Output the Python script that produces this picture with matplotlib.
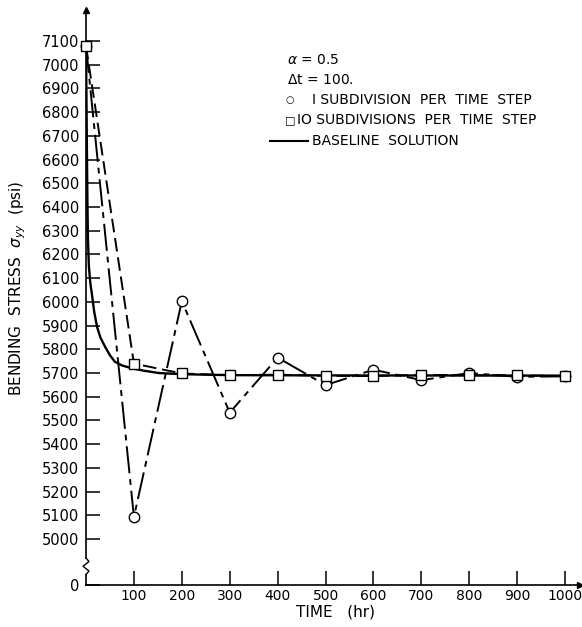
import matplotlib
matplotlib.use("Agg")
import matplotlib.pyplot as plt
from matplotlib.lines import Line2D

# ---- data -------------------------------------------------------------
time_steps = [0, 100, 200, 300, 400, 500, 600, 700, 800, 900, 1000]
stress_1sub = [7080, 5093, 6003, 5533, 5765, 5649, 5714, 5670, 5700, 5684, 5686]
stress_10sub = [7080, 5740, 5698, 5691, 5693, 5688, 5687, 5692, 5691, 5690, 5687]

baseline_t = [0, 1, 2, 3, 4, 6, 9, 12.5, 17, 23, 30, 40, 50, 60, 75, 96,
              120, 152, 200, 300, 500, 1000]
baseline_s = [7080, 6850, 6620, 6420, 6270, 6150, 6080, 6030, 5960, 5895,
              5850, 5810, 5775, 5748, 5732, 5720, 5710, 5700, 5695, 5691,
              5690, 5689]

x_ticks = [100, 200, 300, 400, 500, 600, 700, 800, 900, 1000]
y_ticks = list(range(5000, 7101, 100))
y_zero_pos = 4806          # position of the broken-axis origin

W, H = 582, 627
fig = plt.figure(figsize=(W / 100, H / 100), dpi=100)
plt.rcParams['font.family'] = ['DejaVu Sans']

left, bottom, right, top = 86, 585, 580, 10
ax = fig.add_axes([left / W, 1 - bottom / H, (right - left) / W, (bottom - top) / H])
ax.set_xlim(0, 1031)
ax.set_ylim(y_zero_pos, 7231)

lw = 1.4
ax.plot(baseline_t, baseline_s, color='black', lw=lw + 0.3, zorder=3)
ax.plot(time_steps, stress_1sub, color='black', lw=lw,
        linestyle=(0, (14, 3, 3, 3)), marker='o', ms=7.5,
        mfc='white', mec='black', mew=1.0, zorder=4, clip_on=False)
ax.plot(time_steps, stress_10sub, color='black', lw=lw,
        linestyle=(0, (7, 3)), marker='s', ms=7.5,
        mfc='white', mec='black', mew=1.0, zorder=5, clip_on=False)

# axes styling
for s in ('top', 'right', 'left'):
    ax.spines[s].set_visible(False)
ax.spines['bottom'].set_linewidth(1.2)

ax.set_xticks(x_ticks)
ax.set_xticklabels([str(v) for v in x_ticks], fontsize=10)
ax.set_yticks(y_ticks + [y_zero_pos])
ax.set_yticklabels([str(v) for v in y_ticks] + ['0'], fontsize=10.5)
ax.tick_params(axis='both', direction='in', length=10, width=1.1, colors='black')
ax.tick_params(axis='x', pad=3)
ax.tick_params(axis='y', pad=5)

# left axis line with a break between 0 and 5000
tr = ax.get_yaxis_transform()
brk_lo, brk_hi = 4850, 4920
ax.plot([0, 0], [y_zero_pos, brk_lo], transform=tr, color='black', lw=1.2, clip_on=False)
ax.plot([0, 0], [brk_hi, 7231], transform=tr, color='black', lw=1.2, clip_on=False)
zz_x = [0, 0.006, -0.006, 0.006, 0]
zz_y = [brk_lo, brk_lo + 15, brk_lo + 35, brk_lo + 55, brk_hi]
ax.plot(zz_x, zz_y, transform=tr, color='black', lw=1.0, clip_on=False)

# arrowheads on both axes
ax.plot([0], [1], marker='^', ms=5, color='black', transform=ax.transAxes, clip_on=False)
ax.plot([1], [0], marker='>', ms=5, color='black', transform=ax.transAxes, clip_on=False)

# axis titles
fig.text(18 / W, 1 - 288 / H, r'BENDING  STRESS  $\sigma_{yy}$  (psi)', rotation=90,
         ha='center', va='center', fontsize=11)
fig.text(335 / W, 1 - 612 / H, 'TIME   (hr)', ha='center', va='center', fontsize=11)

# key
fs = 10
def px(x, y):
    return x / W, 1 - y / H

fig.text(*px(287, 60), r'$\alpha$ = 0.5', fontsize=fs, va='center')
fig.text(*px(287, 80), r'$\Delta$t = 100.', fontsize=fs, va='center')
fig.text(*px(286, 100), '\u25cb', fontsize=7, va='center')
fig.text(*px(312, 100), 'I SUBDIVISION  PER  TIME  STEP', fontsize=fs, va='center')
fig.text(*px(285, 120), '\u25a1', fontsize=8, va='center')
fig.text(*px(297, 120), 'IO SUBDIVISIONS  PER  TIME  STEP', fontsize=fs, va='center')
fig.add_artist(Line2D([270 / W, 308 / W], [1 - 141 / H, 1 - 141 / H], color='black', lw=1.5))
fig.text(*px(312, 141), 'BASELINE  SOLUTION', fontsize=fs, va='center')

fig.savefig('out.png', dpi=100)
